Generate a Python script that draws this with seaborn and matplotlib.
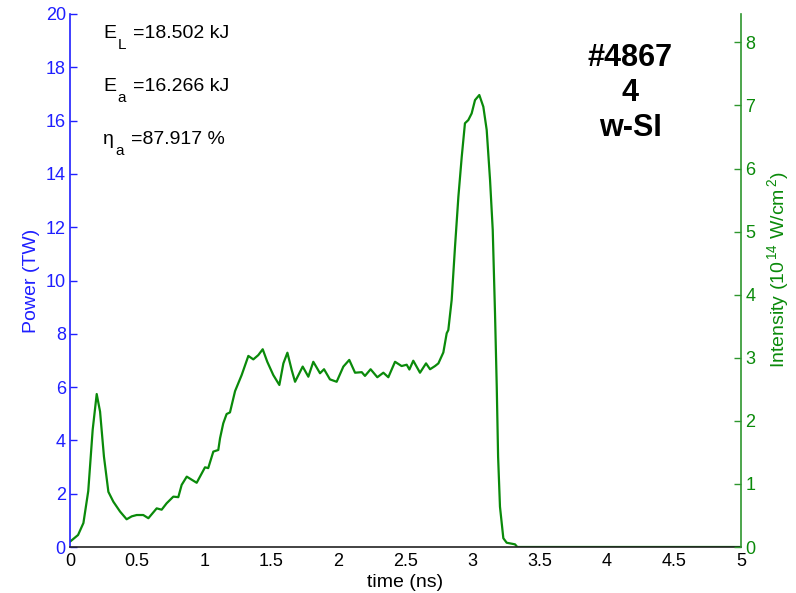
import matplotlib
matplotlib.use("Agg")
import matplotlib.pyplot as plt
import seaborn as sns
import pandas as pd
import numpy as np
from matplotlib.ticker import MultipleLocator

# ---- data ----
time_ns = [0.0, 0.06, 0.10, 0.136, 0.169, 0.199, 0.224, 0.253, 0.286, 0.323, 0.373, 0.422,
           0.46, 0.497, 0.546, 0.584, 0.646, 0.683, 0.72, 0.77, 0.807, 0.832, 0.87, 0.944,
           1.006, 1.03, 1.068, 1.105, 1.118, 1.142, 1.167, 1.192, 1.23, 1.279, 1.329, 1.366,
           1.403, 1.436, 1.47, 1.515, 1.56, 1.59, 1.62, 1.652, 1.677, 1.734, 1.776, 1.813,
           1.863, 1.893, 1.937, 1.987, 2.037, 2.081, 2.124, 2.174, 2.198, 2.24, 2.29, 2.335,
           2.372, 2.422, 2.471, 2.509, 2.529, 2.558, 2.608, 2.653, 2.683, 2.72, 2.745, 2.782,
           2.807, 2.819, 2.844, 2.869, 2.894, 2.919, 2.943, 2.968, 2.993, 3.018, 3.05, 3.08,
           3.105, 3.13, 3.15, 3.167, 3.18, 3.19, 3.204, 3.229, 3.254, 3.316, 3.333, 3.4, 5.0]
power_tw = [0.2, 0.45, 0.9, 2.1, 4.4, 5.74, 5.08, 3.39, 2.07, 1.7, 1.33, 1.04,
            1.15, 1.2, 1.2, 1.08, 1.45, 1.4, 1.64, 1.89, 1.87, 2.33, 2.64, 2.41,
            2.99, 2.96, 3.58, 3.64, 4.08, 4.64, 4.99, 5.05, 5.85, 6.45, 7.17, 7.04,
            7.2, 7.42, 6.95, 6.45, 6.08, 6.89, 7.29, 6.64, 6.2, 6.77, 6.39, 6.95,
            6.52, 6.67, 6.29, 6.2, 6.77, 7.02, 6.54, 6.56, 6.42, 6.67, 6.37, 6.54,
            6.37, 6.95, 6.79, 6.84, 6.66, 6.99, 6.54, 6.89, 6.67, 6.79, 6.89, 7.3,
            8.02, 8.14, 9.27, 11.27, 13.14, 14.64, 15.9, 16.02, 16.27, 16.77, 16.96, 16.52,
            15.65, 13.77, 11.9, 8.77, 6.0, 3.39, 1.51, 0.33, 0.16, 0.1, 0.0, 0.0, 0.0]

x_ticks = [0, 0.5, 1, 1.5, 2, 2.5, 3, 3.5, 4, 4.5, 5]
x_tick_labels = ["0", "0.5", "1", "1.5", "2", "2.5", "3", "3.5", "4", "4.5", "5"]
left_ticks = [0, 2, 4, 6, 8, 10, 12, 14, 16, 18, 20]
right_ticks = [0, 1, 2, 3, 4, 5, 6, 7, 8]
intensity_max = 8.45

energy_symbols = ["E", "E", "η"]
energy_subscripts = ["L", "a", "a"]
energy_values = ["=18.502 kJ", "=16.266 kJ", "=87.917 %"]
shot_label = "#4867\n4\nw-SI"

df = pd.DataFrame({"time": time_ns, "power": power_tw})

# ---- style ----
sns.set_style("white")
plt.rcParams["font.family"] = ["Liberation Sans", "DejaVu Sans"]
plt.rcParams["mathtext.fontset"] = "custom"
plt.rcParams["mathtext.rm"] = "Liberation Sans"
plt.rcParams["mathtext.it"] = "Liberation Sans:italic"
plt.rcParams["mathtext.bf"] = "Liberation Sans:bold"

BLUE = "#1f1fff"
GREEN = "#0a8a0a"
AXGREEN = "#2e962e"

fig = plt.figure(figsize=(7.96, 5.93), dpi=100)
ax = fig.add_axes([70/796, 46/593, (741-70)/796, (547-14)/593])

sns.lineplot(data=df, x="time", y="power", ax=ax, color=GREEN, linewidth=1.6, sort=False)

ax.set_xlim(0, 5)
ax.set_ylim(0, 20)
ax.set_xticks(x_ticks)
ax.set_xticklabels(x_tick_labels)
ax.xaxis.set_minor_locator(MultipleLocator(0.1))
ax.set_yticks(left_ticks)
ax.tick_params(axis="x", direction="in", length=5, width=1, colors="black", labelsize=13, pad=4)
ax.tick_params(axis="x", which="minor", direction="in", length=3, width=1, colors="black")
ax.tick_params(axis="y", direction="in", length=5, width=1, colors=BLUE, labelcolor=BLUE, labelsize=13, pad=3)
ax.spines["top"].set_visible(False)
ax.spines["right"].set_visible(False)
ax.spines["left"].set_color(BLUE)
ax.spines["left"].set_linewidth(1.2)
ax.spines["bottom"].set_color("#222222")
ax.spines["bottom"].set_linewidth(1.2)
ax.set_xlabel("time (ns)", fontsize=14, color="black", labelpad=3)
ax.set_ylabel("Power (TW)", fontsize=14, color=BLUE, labelpad=4)

ax2 = ax.twinx()
ax2.set_ylim(0, intensity_max)
ax2.set_yticks(right_ticks)
ax2.tick_params(axis="y", direction="in", length=5, width=1, colors=AXGREEN, labelcolor=GREEN, labelsize=13, pad=3)
for s in ["top", "left", "bottom"]:
    ax2.spines[s].set_visible(False)
ax2.spines["right"].set_color(AXGREEN)
ax2.spines["right"].set_linewidth(1.2)
ax2.set_ylabel("Intensity (10$^{\\,14}$ W/cm$^{\\,2}$)", fontsize=14, color=GREEN)
ax2.yaxis.set_label_coords(1.036, 0.52)

for i in range(len(energy_symbols)):
    t1 = ax.text(103/796, (593-38-i*53)/593, energy_symbols[i], transform=fig.transFigure,
                 fontsize=14, color="black", ha="left", va="baseline")
    ax.annotate(energy_subscripts[i], xy=(1, 0), xycoords=t1, xytext=(1, -7.5),
                textcoords="offset points", fontsize=11, color="black",
                ha="left", va="bottom")
    ax.annotate(energy_values[i], xy=(1, 0), xycoords=t1, xytext=(12.5, 0),
                textcoords="offset points", fontsize=14, color="black",
                ha="left", va="bottom")

ax.text(630/796, (593-93)/593, shot_label, transform=fig.transFigure,
        fontsize=22, fontweight="bold", color="black", ha="center", va="center",
        linespacing=1.22)

fig.savefig("out.png", dpi=100)
